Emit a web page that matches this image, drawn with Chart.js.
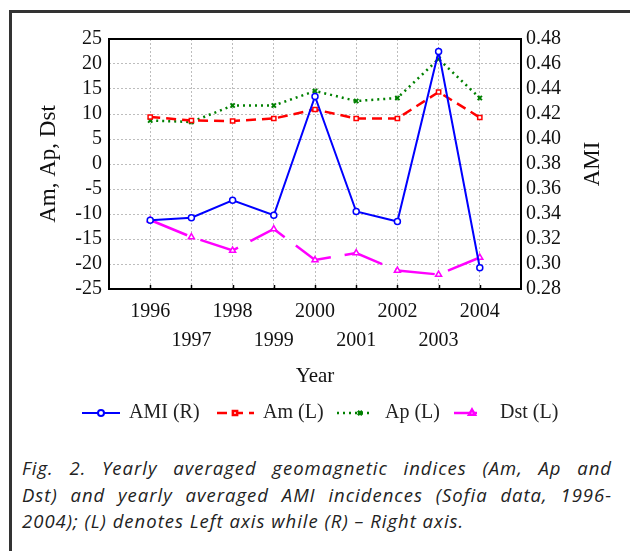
<!DOCTYPE html>
<html>
<head>
<meta charset="utf-8">
<script src="https://cdn.jsdelivr.net/npm/chart.js@4/dist/chart.umd.min.js"></script>
<style>
  body { margin: 0; background: #fff; overflow: hidden; }
  #frame {
    position: absolute; left: 9px; top: 10px; width: 700px; height: 700px;
    border-left: 3px solid #333; border-top: 3px solid #333;
  }
  #wrap { position: absolute; left: 0; top: 0; width: 630px; height: 440px; }
  #caption {
    position: absolute; left: 22px; top: 455px; width: 590px;
    font-family: "Open Sans", sans-serif; font-style: italic; font-size: 18.5px;
    letter-spacing: 1px; line-height: 26.5px; color: #222;
  }
  #caption .j { text-align: justify; text-align-last: justify; white-space: nowrap; }
</style>
</head>
<body>
<div id="frame"></div>
<div id="wrap"><canvas id="chart"></canvas></div>
<div id="caption">
  <div class="j">Fig. 2. Yearly averaged geomagnetic indices (Am, Ap and</div>
  <div class="j">Dst) and yearly averaged AMI incidences (Sofia data, 1996-</div>
  <div>2004); (L) denotes Left axis while (R) &ndash; Right axis.</div>
</div>
<script>
'use strict';
// ******* DATA ********
let years = [1996, 1997, 1998, 1999, 2000, 2001, 2002, 2003, 2004];
let amiValues = [0.335, 0.337, 0.351, 0.339, 0.434, 0.342, 0.334, 0.470, 0.297];
let amValues = [9.4, 8.7, 8.6, 9.1, 10.9, 9.1, 9.1, 14.4, 9.3];
let apValues = [8.7, 8.4, 11.7, 11.7, 14.6, 12.6, 13.2, 21.0, 13.2];
let dstValues = [-11.2, -14.6, -17.3, -13.0, -19.2, -17.8, -21.3, -22.1, -18.7];
let seriesLabels = ['AMI (R)', 'Am (L)', 'Ap (L)', 'Dst (L)'];

let serif = '"Liberation Serif", "Times New Roman", serif';

function points(values) {
  let out = [];
  for (let i = 0; i < years.length; i++) {
    out.push({ x: years[i], y: values[i] });
  }
  return out;
}

// frame, inner ticks, right title and legend
let decorPlugin = {
  id: 'decor',
  afterDatasetsDraw(chart) {
    let ctx = chart.ctx;
    let area = chart.chartArea;
    let xs = chart.scales.x;
    ctx.save();
    ctx.strokeStyle = '#000';
    ctx.lineWidth = 2;
    ctx.strokeRect(area.left, area.top, area.right - area.left, area.bottom - area.top);
    ctx.lineWidth = 1.5;
    for (let i = 0; i < years.length; i++) {
      let px = Math.round(xs.getPixelForValue(years[i])) + 0.5;
      ctx.beginPath();
      ctx.moveTo(px, area.bottom);
      ctx.lineTo(px, area.bottom - 4);
      ctx.stroke();
    }
    ctx.restore();
  },
  afterDraw(chart) {
    let ctx = chart.ctx;
    let area = chart.chartArea;
    ctx.save();
    // right axis title, reads bottom-to-top
    ctx.fillStyle = '#111';
    ctx.font = '23px ' + serif;
    ctx.textAlign = 'center';
    ctx.textBaseline = 'middle';
    ctx.translate(593, (area.top + area.bottom) / 2);
    ctx.rotate(-Math.PI / 2);
    ctx.fillText('AMI', 0, 0);
    ctx.restore();

    // legend
    let items = [
      { ds: 0, x1: 82, x2: 120, mx: 101, tx: 129 },
      { ds: 1, x1: 217, x2: 254, mx: 235, tx: 263 },
      { ds: 2, x1: 337, x2: 373, mx: 360, tx: 385 },
      { ds: 3, x1: 454, x2: 477, mx: 472, tx: 500 }
    ];
    let ly = 413;
    items.forEach(function (it) {
      let d = chart.data.datasets[it.ds];
      ctx.save();
      ctx.strokeStyle = d.borderColor;
      ctx.lineWidth = d.borderWidth;
      ctx.setLineDash(it.ds === 3 ? [] : (d.borderDash || []));
      ctx.beginPath();
      ctx.moveTo(it.x1, ly);
      ctx.lineTo(it.x2, ly);
      ctx.stroke();
      ctx.setLineDash([]);
      ctx.fillStyle = d.backgroundColor;
      Chart.helpers.drawPoint(ctx, {
        pointStyle: d.pointStyle, radius: d.pointRadius, borderWidth: 1.5, rotation: 0
      }, it.mx, ly);
      ctx.fillStyle = '#222';
      ctx.font = '20px ' + serif;
      ctx.textAlign = 'left';
      ctx.textBaseline = 'middle';
      ctx.fillText(seriesLabels[it.ds], it.tx, ly);
      ctx.restore();
    });
  }
};

function renderChart() {
  let canvasElem = document.getElementById('chart');
  let chartObj = {
    type: 'line',
    data: {
      datasets: [{
        label: seriesLabels[0],
        data: points(amiValues),
        yAxisID: 'y1',
        borderColor: '#0000ff',
        backgroundColor: '#ffffff',
        borderWidth: 2,
        pointStyle: 'circle',
        pointRadius: 3,
        pointBorderWidth: 1.5,
        order: 0
      },
      {
        label: seriesLabels[1],
        data: points(amValues),
        yAxisID: 'y',
        borderColor: '#ff0000',
        backgroundColor: '#ffffff',
        borderWidth: 2.5,
        borderDash: [10, 6],
        pointStyle: 'rect',
        pointRadius: 3,
        pointBorderWidth: 1.5,
        order: 1
      },
      {
        label: seriesLabels[2],
        data: points(apValues),
        yAxisID: 'y',
        borderColor: '#008000',
        backgroundColor: '#008000',
        borderWidth: 2.5,
        borderDash: [2, 4],
        pointStyle: 'crossRot',
        pointRadius: 3,
        pointBorderWidth: 2,
        order: 2
      },
      {
        label: seriesLabels[3],
        data: points(dstValues),
        yAxisID: 'y',
        borderColor: '#ff00ff',
        backgroundColor: '#ffffff',
        borderWidth: 2.5,
        borderDash: [40, 14],
        pointStyle: 'triangle',
        pointRadius: 3.5,
        pointBorderWidth: 1.5,
        order: 3
      }]
    },
    options: {
      responsive: true,
      maintainAspectRatio: false,
      animation: false,
      events: [],
      layout: { padding: { top: 39, left: 0, right: 0, bottom: 51 } },
      plugins: { legend: { display: false }, tooltip: { enabled: false } },
      scales: {
        x: {
          type: 'linear',
          min: 1995,
          max: 2005,
          grid: { color: '#bdbdbd', lineWidth: 1, drawTicks: false },
          border: { display: false, dash: [2, 2] },
          ticks: {
            stepSize: 1,
            autoSkip: false,
            maxRotation: 0,
            padding: 8,
            color: '#111',
            font: { family: serif, size: 20, lineHeight: 1.45 },
            callback: function (v) {
              if (v < 1996 || v > 2004) return '';
              return v % 2 === 0 ? [String(v), ''] : ['', String(v)];
            }
          },
          title: {
            display: true,
            text: 'Year',
            color: '#111',
            font: { family: serif, size: 21 },
            padding: { top: 0, bottom: 0 }
          },
          afterFit: function (scale) { scale.height = 100; }
        },
        y: {
          position: 'left',
          min: -25,
          max: 25,
          grid: { color: '#bdbdbd', lineWidth: 1, drawTicks: false },
          border: { display: false, dash: [2, 2] },
          ticks: {
            stepSize: 5,
            autoSkip: false,
            padding: 7,
            color: '#111',
            font: { family: serif, size: 20 }
          },
          title: {
            display: true,
            text: 'Am, Ap, Dst',
            color: '#111',
            font: { family: serif, size: 23 },
            padding: { top: 35, bottom: 0 }
          },
          afterFit: function (scale) { scale.width = 109; }
        },
        y1: {
          position: 'right',
          min: 0.28,
          max: 0.48,
          grid: { display: false, drawTicks: false },
          border: { display: false },
          ticks: {
            stepSize: 0.02,
            autoSkip: false,
            padding: 5,
            color: '#111',
            font: { family: serif, size: 20 },
            callback: function (v) { return v.toFixed(2); }
          },
          afterFit: function (scale) { scale.width = 109; }
        }
      }
    },
    plugins: [decorPlugin]
  };
  new Chart(canvasElem, chartObj); // eslint-disable-line
}

renderChart();
</script>
</body>
</html>
